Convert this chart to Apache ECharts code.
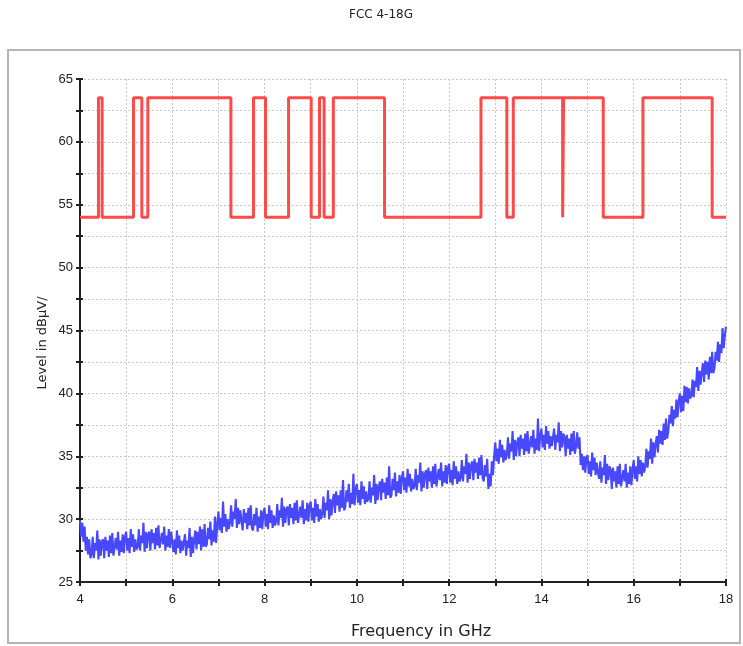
<!DOCTYPE html>
<html>
<head>
<meta charset="utf-8">
<script src="https://cdn.jsdelivr.net/npm/echarts@6/dist/echarts.min.js"></script>
<style>
  html, body { margin: 0; padding: 0; background: #fff; }
  #chart { width: 743px; height: 646px; }
</style>
</head>
<body>
<div id="chart"></div>
<script>
// limit line: segment edges (GHz) and the level of each segment (dBµV)
const limitEdges = [4, 4.40, 4.48, 5.16, 5.34, 5.47, 7.27, 7.76, 8.02, 8.52, 9.01, 9.19, 9.29, 9.49,
  10.60, 12.69, 13.25, 13.39, 14.46, 14.48, 15.34, 16.20, 17.70, 18]
const limitLevels = [54, 63.5, 54, 63.5, 54, 63.5, 54, 63.5, 54, 63.5, 54, 63.5, 54, 63.5,
  54, 63.5, 54, 63.5, 54, 63.5, 54, 63.5, 54]

// measured trace, one reading every 0.025 GHz from 4 GHz (one row = 0.25 GHz)
const traceStart = 4
const traceStep = 0.025
const traceLevels = [
  29.9, 28.6, 29.7, 28.2, 29.4, 27.5, 28.6, 27.2, 28.4, 26.9,
  27.2, 28.6, 26.9, 28.1, 27.5, 29.1, 26.8, 28.4, 27.1, 28.2,
  28.4, 26.9, 28.6, 27.5, 28.3, 27.0, 28.7, 27.3, 28.9, 27.1,
  27.2, 28.5, 27.6, 29.0, 27.1, 28.3, 27.4, 28.8, 27.3, 28.6,
  29.0, 27.5, 28.5, 27.3, 29.2, 27.8, 28.8, 27.4, 28.4, 27.6,
  27.8, 29.2, 27.5, 28.7, 28.1, 29.7, 27.4, 29.0, 27.7, 28.8,
  29.0, 27.5, 29.2, 28.1, 28.9, 27.6, 29.3, 27.9, 29.5, 27.7,
  27.6, 28.9, 28.0, 29.4, 27.5, 28.7, 27.8, 29.2, 27.7, 29.0,
  28.9, 27.4, 28.4, 27.2, 29.1, 27.7, 28.7, 27.3, 28.3, 27.5,
  27.4, 28.8, 27.1, 28.3, 27.7, 29.3, 27.0, 28.6, 27.3, 28.4,
  29.1, 27.6, 29.0, 28.0, 29.4, 27.5, 29.2, 27.8, 29.6, 27.8,
  28.0, 29.3, 28.4, 29.8, 27.9, 29.1, 28.2, 30.2, 28.1, 29.6,
  30.6, 29.1, 30.1, 28.9, 31.4, 29.4, 30.4, 29.0, 30.0, 29.2,
  29.7, 31.1, 29.4, 30.6, 30.0, 31.6, 29.3, 30.9, 29.6, 30.7,
  30.6, 29.1, 30.8, 29.7, 30.5, 29.2, 30.9, 29.5, 31.1, 29.3,
  29.1, 30.4, 29.5, 30.9, 29.0, 30.2, 29.3, 30.7, 29.2, 30.5,
  30.9, 29.4, 30.4, 29.2, 31.1, 29.7, 30.7, 29.3, 30.3, 29.5,
  29.8, 31.2, 29.5, 30.7, 30.1, 31.7, 29.4, 31.0, 29.7, 30.8,
  31.0, 29.5, 31.2, 30.1, 30.9, 29.6, 31.3, 29.9, 31.5, 29.7,
  29.7, 31.0, 30.1, 31.5, 29.6, 30.8, 29.9, 31.3, 29.8, 31.1,
  31.4, 29.9, 30.9, 29.7, 31.6, 30.2, 31.2, 29.8, 30.8, 30.0,
  30.4, 31.8, 30.1, 31.3, 30.7, 32.3, 30.0, 31.6, 30.3, 31.4,
  32.0, 30.5, 32.2, 31.1, 31.9, 30.6, 32.3, 30.9, 33.1, 30.7,
  31.0, 32.3, 31.4, 32.8, 30.9, 32.1, 31.2, 33.6, 31.1, 32.4,
  32.8, 31.3, 32.3, 31.1, 33.0, 31.6, 32.6, 31.2, 32.2, 31.4,
  31.6, 33.0, 31.3, 32.5, 31.9, 33.5, 31.2, 32.8, 31.5, 32.6,
  33.0, 31.5, 33.2, 32.1, 32.9, 31.6, 33.3, 31.9, 34.2, 31.7,
  31.9, 33.2, 32.3, 33.7, 31.8, 33.0, 32.1, 33.5, 32.0, 33.3,
  33.8, 32.3, 33.3, 32.1, 34.0, 32.6, 33.6, 32.2, 33.2, 32.4,
  32.6, 34.0, 32.3, 33.5, 32.9, 34.5, 32.2, 33.8, 32.5, 33.6,
  33.9, 32.4, 34.1, 33.0, 33.8, 32.5, 34.2, 32.8, 34.4, 32.6,
  32.7, 34.0, 33.1, 34.5, 32.6, 33.8, 32.9, 34.3, 32.8, 34.1,
  34.4, 32.9, 33.9, 32.7, 34.6, 33.2, 34.2, 32.8, 33.8, 33.0,
  33.3, 34.7, 33.0, 34.2, 33.6, 35.2, 32.9, 34.5, 33.2, 34.3,
  34.6, 33.1, 34.8, 33.7, 34.5, 33.2, 34.9, 33.5, 35.1, 33.3,
  33.0, 34.3, 33.4, 34.8, 32.4, 33.6, 32.6, 34.6, 33.5, 35.0,
  36.1, 34.6, 35.6, 34.4, 36.3, 34.9, 35.9, 34.5, 35.5, 34.7,
  35.1, 36.5, 34.8, 36.0, 35.4, 37.0, 34.7, 36.3, 35.0, 36.1,
  36.5, 35.0, 36.7, 35.6, 36.4, 35.1, 36.8, 35.4, 37.0, 35.2,
  35.3, 36.6, 35.7, 37.1, 35.2, 36.4, 35.5, 38.0, 35.4, 36.7,
  37.2, 35.7, 36.7, 35.5, 37.4, 36.0, 37.0, 35.6, 36.6, 35.8,
  35.8, 37.2, 35.5, 36.7, 36.1, 37.7, 35.4, 37.0, 35.7, 36.8,
  36.5, 35.0, 36.7, 35.6, 36.4, 35.1, 36.8, 35.4, 37.0, 35.2,
  35.8, 36.9, 35.6, 36.5, 34.3, 35.2, 33.9, 35.0, 33.7, 34.9,
  35.1, 33.6, 34.6, 33.4, 35.3, 33.9, 34.9, 33.5, 34.5, 33.7,
  33.2, 34.6, 32.9, 34.1, 33.5, 35.1, 32.8, 34.4, 33.1, 34.2,
  33.9, 32.4, 34.1, 33.0, 33.8, 32.5, 34.2, 32.8, 34.4, 32.6,
  32.6, 33.9, 33.0, 34.4, 32.5, 33.7, 32.8, 34.2, 32.7, 34.0,
  34.7, 33.2, 34.2, 33.0, 35.0, 33.6, 34.7, 33.4, 34.5, 33.7,
  34.2, 35.6, 34.1, 35.4, 34.8, 36.4, 34.4, 36.1, 34.9, 36.0,
  36.6, 35.3, 37.1, 36.0, 37.0, 35.9, 37.6, 36.3, 38.0, 36.4,
  37.0, 38.3, 37.6, 39.0, 37.4, 38.7, 38.0, 39.5, 38.1, 39.4,
  40.0, 38.5, 39.8, 38.6, 40.6, 39.3, 40.5, 39.2, 40.4, 39.6,
  39.8, 41.1, 39.7, 41.0, 40.5, 42.1, 40.2, 41.8, 40.7, 41.7,
  42.4, 40.9, 42.6, 41.5, 42.5, 41.1, 42.9, 41.6, 43.3, 41.6,
  42.0, 43.3, 42.6, 44.1, 42.5, 43.9, 43.2, 45.2, 43.6, 44.6,
  45.3
]

const title = 'FCC 4-18G'
const xName = 'Frequency in GHz'
const yName = 'Level in dBµV/'

const chart = echarts.init(document.getElementById('chart'), null, { renderer: 'canvas' })

const limitData = []
limitLevels.forEach((lv, k) => {
  limitData.push([limitEdges[k], lv], [limitEdges[k + 1], lv])
})
const traceData = traceLevels.map((v, i) => [+(traceStart + i * traceStep).toFixed(3), v])

const gridLine = { show: true, lineStyle: { color: '#c6c6c6', type: [2, 2], width: 1 } }
const font = 'Liberation Sans'
const tickStyle = { color: '#222', width: 2 }

chart.setOption({
  animation: false,
  backgroundColor: '#fff',
  graphic: [
    { type: 'rect', shape: { x: 8, y: 50, width: 732, height: 593 }, style: { fill: 'none', stroke: '#b4b4b4', lineWidth: 2 }, z: -1 },
    { type: 'text', x: 381, y: 15, style: { text: title, font: '12px "DejaVu Sans"', fill: '#222', textAlign: 'center', textVerticalAlign: 'middle' } },
    { type: 'text', x: 421, y: 632, style: { text: xName, font: '16px "DejaVu Sans"', fill: '#222', textAlign: 'center', textVerticalAlign: 'middle' } },
    { type: 'text', x: 43, y: 343, rotation: Math.PI / 2, style: { text: yName, font: '13px "DejaVu Sans"', fill: '#222', textAlign: 'center', textVerticalAlign: 'middle' } }
  ],
  grid: { left: 80, right: 17, top: 79, bottom: 64 },
  xAxis: [
    {
      type: 'value', min: 4, max: 18, interval: 2,
      axisLine: { lineStyle: { color: '#222', width: 2 } },
      axisTick: { show: true, length: 4, lineStyle: tickStyle },
      minorTick: { show: true, splitNumber: 2, length: 4, lineStyle: tickStyle },
      axisLabel: { color: '#222', fontSize: 13, fontFamily: font, margin: 11 },
      splitLine: gridLine,
      minorSplitLine: gridLine
    },
    {
      type: 'value', min: 4, max: 18, interval: 2, position: 'bottom',
      axisLine: { show: false },
      axisTick: { show: true, inside: true, length: 3, lineStyle: tickStyle },
      minorTick: { show: true, splitNumber: 2, length: 3, lineStyle: tickStyle },
      axisLabel: { show: false },
      splitLine: { show: false }
    }
  ],
  yAxis: [
    {
      type: 'value', min: 25, max: 65, interval: 5,
      axisLine: { show: true, lineStyle: { color: '#222', width: 2 } },
      axisTick: { show: true, length: 4, lineStyle: tickStyle },
      minorTick: { show: true, splitNumber: 2, length: 4, lineStyle: tickStyle },
      axisLabel: { color: '#222', fontSize: 13, fontFamily: font, margin: 7 },
      splitLine: gridLine,
      minorSplitLine: gridLine
    },
    {
      type: 'value', min: 25, max: 65, interval: 5, position: 'left',
      axisLine: { show: false },
      axisTick: { show: true, inside: true, length: 3, lineStyle: tickStyle },
      minorTick: { show: true, splitNumber: 2, length: 3, lineStyle: tickStyle },
      axisLabel: { show: false },
      splitLine: { show: false }
    }
  ],
  series: [
    {
      name: 'trace', type: 'line', data: traceData, showSymbol: false,
      lineStyle: { color: '#4848ff', width: 2.1, join: 'bevel' }, z: 3
    },
    {
      name: 'limit', type: 'line', data: limitData, showSymbol: false,
      lineStyle: { color: '#ff4a4a', width: 3 }, z: 4
    }
  ]
})
</script>
</body>
</html>
